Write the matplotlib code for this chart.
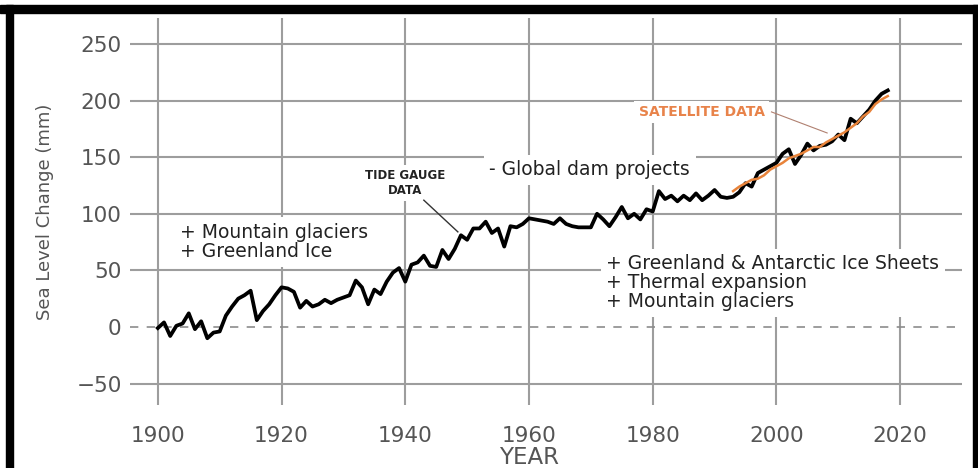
import matplotlib.pyplot as plt
from matplotlib.patches import Rectangle

# Données (mm, par rapport à 1900)
years = list(range(1900, 2019))
tide_gauge = [
    -1, 4, -8, 1, 3, 12, -2, 5, -10, -5,
    -4, 10, 18, 25, 28, 32, 6, 14, 20, 28,
    35, 34, 31, 17, 23, 18, 20, 24, 21, 24,
    26, 28, 41, 35, 20, 33, 29, 40, 48, 52,
    40, 55, 57, 63, 54, 53, 68, 60, 69, 81,
    77, 87, 87, 93, 83, 87, 71, 89, 88, 91,
    96, 95, 94, 93, 91, 96, 91, 89, 88, 88,
    88, 100, 95, 89, 97, 106, 96, 100, 95, 104,
    102, 120, 113, 116, 111, 116, 112, 118, 112, 116,
    121, 115, 114, 115, 119, 127, 124, 136, 139, 142,
    145, 153, 157, 144, 152, 162, 156, 160, 161, 164,
    170, 165, 184, 180, 186, 192, 200, 206, 209,
]
sat_years = list(range(1993, 2019))
satellite = [
    120, 124, 127, 130, 131, 134, 139, 142, 145, 149,
    151, 153, 156, 159, 159, 163, 166, 169, 172, 176,
    180, 186, 190, 197, 201, 204,
]
x_ticks = [1900, 1920, 1940, 1960, 1980, 2000, 2020]
y_ticks = [-50, 0, 50, 100, 150, 200, 250]

plt.rcParams['font.family'] = ['DejaVu Sans']

fig = plt.figure(figsize=(9.79, 4.68), dpi=100)
W, H = 979, 468
ax = fig.add_axes([130 / W, 1 - 405 / H, (962 - 130) / W, (405 - 18) / H])

ax.plot(years, tide_gauge, color='black', lw=2.7, zorder=4)
ax.plot(sat_years, satellite, color='#e8833a', lw=1.8, zorder=5)
ax.axhline(0, color='#8c8c8c', lw=1.2, ls=(0, (5, 5)), zorder=1)

ax.set_xlim(1895.5, 2030)
ax.set_ylim(-69, 273)
ax.set_xticks(x_ticks)
ax.set_yticks(y_ticks)
for v in y_ticks:
    if v != 0:
        ax.axhline(v, color='#9d9d9d', lw=1.5, zorder=0)
for v in x_ticks:
    ax.axvline(v, color='#9d9d9d', lw=1.5, zorder=0)
for s in ax.spines.values():
    s.set_visible(False)
ax.tick_params(length=0, labelsize=15.5, labelcolor='#555555')
ax.tick_params(axis='x', pad=15)
ax.tick_params(axis='y', pad=6)
ax.set_xlabel('YEAR', fontsize=16.5, color='#555555')
ax.xaxis.set_label_coords((529 - 130) / (962 - 130), -(458 - 405) / (405 - 18))
ax.xaxis.label.set_va('center')
ax.set_ylabel('Sea Level Change (mm)', fontsize=13, color='#555555')
ax.yaxis.set_label_coords(-(130 - 45) / (962 - 130), (405 - 212) / (405 - 18))
ax.yaxis.label.set_va('center')

box = dict(facecolor='white', edgecolor='none', pad=4)
ax.text(1903.6, 75, '+ Mountain glaciers\n+ Greenland Ice', fontsize=13.5,
        color='#222222', va='center', ha='left', linespacing=1.0, bbox=box, zorder=3)
ax.text(1953.6, 138.7, '- Global dam projects', fontsize=13.5, color='#222222',
        va='center', ha='left', bbox=box, zorder=3)
ax.text(1972.5, 39, '+ Greenland & Antarctic Ice Sheets\n+ Thermal expansion\n+ Mountain glaciers',
        fontsize=13.5, color='#222222', va='center', ha='left', linespacing=1.0,
        bbox=box, zorder=3)
ax.text(1939.9, 127, 'TIDE GAUGE\nDATA', fontsize=8.5, fontweight='bold', color='#222222',
        ha='center', va='center', linespacing=1.2,
        bbox=dict(facecolor='white', edgecolor='none', pad=3), zorder=3)
ax.plot([1943, 1948.5], [112, 84], color='#333333', lw=1, zorder=3)
ax.text(1987.9, 190, 'SATELLITE DATA', fontsize=10, fontweight='bold', color='#e8834a',
        ha='center', va='center', bbox=dict(facecolor='white', edgecolor='none', pad=3), zorder=3)
ax.plot([1999.2, 2008.2], [190, 171.4], color='#b08070', lw=0.8, zorder=3)

# cadre noir autour de l'image
fig.patches.append(Rectangle((0, 1 - 13 / H), 1, 8 / H, transform=fig.transFigure, color='black'))
fig.patches.append(Rectangle((6 / W, 0), 7 / W, 1 - 5 / H, transform=fig.transFigure, color='black'))
fig.patches.append(Rectangle((973 / W, 0), 6 / W, 1 - 5 / H, transform=fig.transFigure, color='black'))

fig.savefig('out.png', dpi=100)
